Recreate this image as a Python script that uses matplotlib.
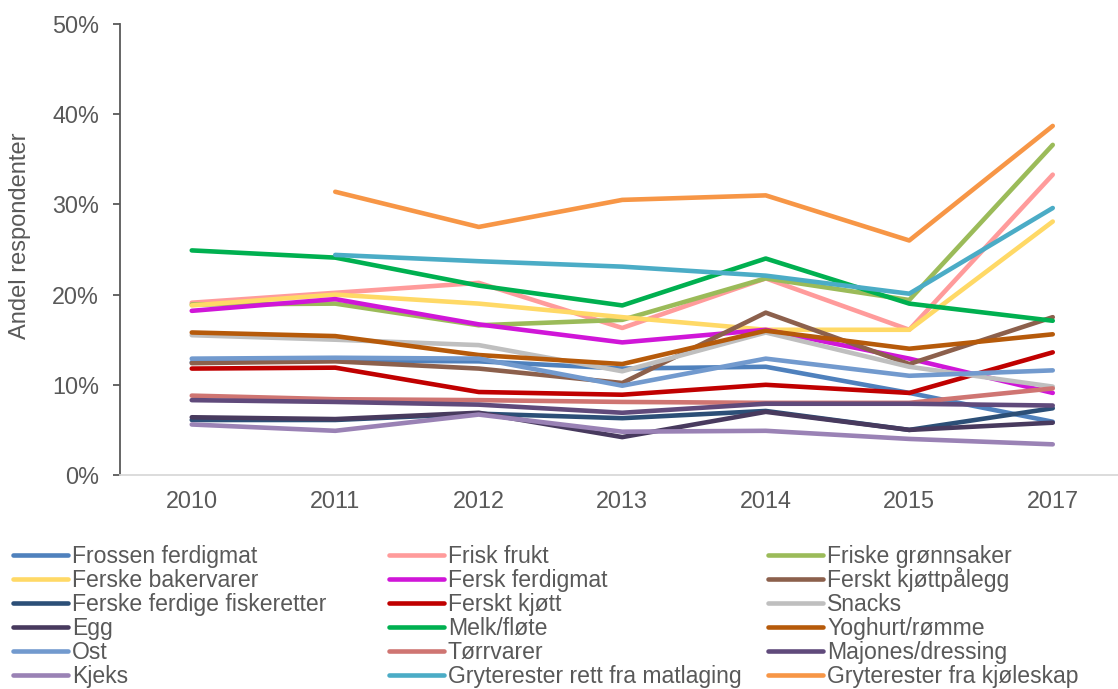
import numpy as np
import matplotlib
matplotlib.use("Agg")
import matplotlib.pyplot as plt
from matplotlib.lines import Line2D
from matplotlib.ticker import PercentFormatter

plt.rcParams['font.family'] = ['Liberation Sans', 'DejaVu Sans']

years = ["2010", "2011", "2012", "2013", "2014", "2015", "2017"]

frossen_ferdigmat = [12.5, 12.7, 12.6, 11.8, 12.0, 9.1, 5.9]
frisk_frukt = [19.1, 20.2, 21.3, 16.3, 21.8, 16.1, 33.3]
friske_gronnsaker = [18.9, 19.0, 16.6, 17.2, 21.8, 19.4, 36.6]
ferske_bakervarer = [18.8, 20.0, 19.0, 17.5, 16.1, 16.1, 28.1]
fersk_ferdigmat = [18.2, 19.5, 16.7, 14.7, 16.1, 12.9, 9.1]
ferskt_kjottpalegg = [12.4, 12.6, 11.8, 10.2, 18.0, 12.3, 17.5]
ferske_fiskeretter = [6.1, 6.1, 6.8, 6.3, 7.1, 5.0, 7.4]
ferskt_kjott = [11.8, 11.9, 9.2, 8.9, 10.0, 9.1, 13.6]
snacks = [15.5, 15.0, 14.4, 11.5, 15.8, 12.0, 9.8]
egg = [6.4, 6.2, 6.9, 4.2, 7.0, 5.0, 5.8]
melk_flote = [24.9, 24.1, 21.0, 18.8, 24.0, 19.0, 17.1]
yoghurt_romme = [15.8, 15.4, 13.3, 12.3, 16.0, 14.0, 15.6]
ost = [12.9, 13.0, 12.9, 9.9, 12.9, 11.0, 11.6]
torrvarer = [8.8, 8.4, 8.3, 8.1, 8.0, 8.0, 9.6]
majones_dressing = [8.3, 8.1, 7.8, 6.9, 7.9, 7.9, 7.7]
kjeks = [5.6, 4.9, 6.7, 4.8, 4.9, 4.0, 3.4]
gryterester_matlaging = [np.nan, 24.4, 23.7, 23.1, 22.1, 20.1, 29.6]
gryterester_kjoleskap = [np.nan, 31.4, 27.5, 30.5, 31.0, 26.0, 38.7]

series = [
    ("Frossen ferdigmat", frossen_ferdigmat, "#4F81BD"),
    ("Frisk frukt", frisk_frukt, "#FF9B9B"),
    ("Friske grønnsaker", friske_gronnsaker, "#9BBB59"),
    ("Ferske bakervarer", ferske_bakervarer, "#FFD966"),
    ("Fersk ferdigmat", fersk_ferdigmat, "#D016D8"),
    ("Ferskt kjøttpålegg", ferskt_kjottpalegg, "#8C604C"),
    ("Ferske ferdige fiskeretter", ferske_fiskeretter, "#2C4F77"),
    ("Ferskt kjøtt", ferskt_kjott, "#C00000"),
    ("Snacks", snacks, "#BFBFBF"),
    ("Egg", egg, "#483A5E"),
    ("Melk/fløte", melk_flote, "#00B050"),
    ("Yoghurt/rømme", yoghurt_romme, "#B65A0A"),
    ("Ost", ost, "#729ACE"),
    ("Tørrvarer", torrvarer, "#CF7572"),
    ("Majones/dressing", majones_dressing, "#604A7B"),
    ("Kjeks", kjeks, "#9A82B5"),
    ("Gryterester rett fra matlaging", gryterester_matlaging, "#4BACC6"),
    ("Gryterester fra kjøleskap", gryterester_kjoleskap, "#F79646"),
]

W, H = 1118, 689
fig = plt.figure(figsize=(W / 100, H / 100), dpi=100)
ax_left, ax_top, ax_bottom = 120, 24, 475
slot = 143.5
ax = fig.add_axes([ax_left / W, 1 - ax_bottom / H, 7 * slot / W, (ax_bottom - ax_top) / H])

x = np.arange(len(years))
for name, vals, col in series:
    ax.plot(x, vals, color=col, lw=3.3, label=name,
            solid_capstyle='round', solid_joinstyle='round')

ax.set_xlim(-0.5, len(years) - 0.5)
ax.set_ylim(0, 50)
ax.set_yticks(np.arange(0, 51, 10))
ax.yaxis.set_major_formatter(PercentFormatter(xmax=100, decimals=0))
ax.set_xticks(x)
ax.set_xticklabels(years)

gray = "#595959"
for s in ["top", "right"]:
    ax.spines[s].set_visible(False)
ax.spines["left"].set_color(gray)
ax.spines["left"].set_linewidth(1.3)
ax.spines["bottom"].set_color("#D9D9D9")
ax.spines["bottom"].set_linewidth(1.3)
ax.tick_params(axis="y", direction="out", length=5, width=1.3, color=gray,
               labelcolor=gray, labelsize=16.8, pad=10)
ax.tick_params(axis="x", length=0, labelcolor=gray, labelsize=16.8, pad=11)

fig.text(20 / W, 1 - 236 / H, "Andel respondenter", rotation=90, ha="center",
         va="center", color=gray, fontsize=17)

# legend: three columns, filled row by row (drawn by hand for exact layout)
col_x = [13, 389, 768]
row_y0, row_dy = 555.0, 24.0
handle_len = 55
for i, (name, vals, col) in enumerate(series):
    r, c = divmod(i, 3)
    y = row_y0 + r * row_dy
    x0 = col_x[c]
    fig.add_artist(Line2D([x0 / W, (x0 + handle_len) / W], [1 - y / H, 1 - y / H],
                          transform=fig.transFigure, color=col, lw=3.3,
                          solid_capstyle='round'))
    fig.text((x0 + handle_len + 4) / W, 1 - (y + 8.3) / H, name, ha="left",
             va="baseline", color=gray, fontsize=16.6)

fig.savefig("out.png", dpi=100)
